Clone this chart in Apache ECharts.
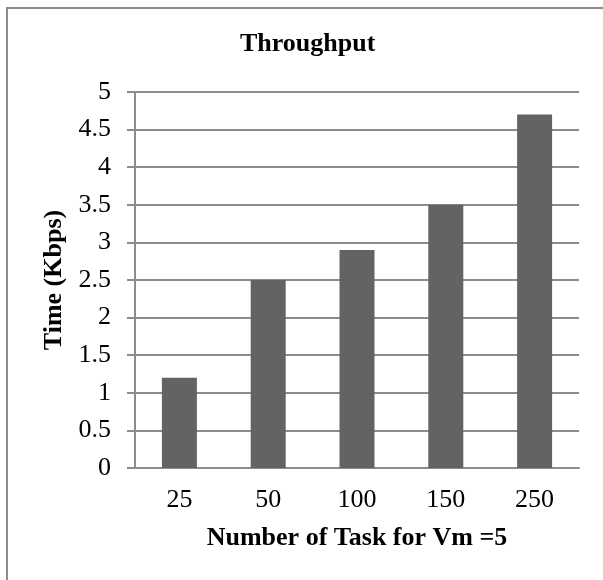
<!DOCTYPE html>
<html>
<head>
<meta charset="utf-8">
<script src="https://cdn.jsdelivr.net/npm/echarts@6/dist/echarts.min.js"></script>
<style>html,body{margin:0;padding:0;background:#fff}#c{width:603px;height:580px}</style>
</head>
<body>
<div id="c"></div>
<script>
const categories = ['25', '50', '100', '150', '250'];
const throughput = [1.2, 2.5, 2.9, 3.5, 4.7];
const yTicks = { min: 0, max: 5, interval: 0.5 };

const serif = '"Liberation Serif", "DejaVu Serif", serif';
const chart = echarts.init(document.getElementById('c'), null, { renderer: 'canvas' });
chart.setOption({
  animation: false,
  backgroundColor: '#fff',
  title: {
    text: 'Throughput',
    left: 235, top: 26,
    textStyle: { fontFamily: serif, fontWeight: 'bold', fontSize: 26, color: '#000' }
  },
  graphic: [{
    type: 'rect', silent: true,
    shape: { x: 7, y: 8, width: 800, height: 800 },
    style: { fill: 'none', stroke: '#8c8c8c', lineWidth: 2 }
  }],
  grid: { left: 135, right: 24, top: 92, bottom: 112 },
  xAxis: {
    type: 'category',
    data: categories,
    name: 'Number of Task for Vm =5',
    nameLocation: 'middle',
    nameGap: 57,
    nameTextStyle: { fontFamily: serif, fontWeight: 'bold', fontSize: 26, color: '#000' },
    axisLine: { show: true, lineStyle: { color: '#8c8c8c', width: 2 } },
    axisTick: { show: false },
    axisLabel: { fontFamily: serif, fontSize: 26, color: '#000', margin: 19 }
  },
  yAxis: {
    type: 'value',
    min: yTicks.min, max: yTicks.max, interval: yTicks.interval,
    name: 'Time (Kbps)',
    nameLocation: 'middle',
    nameGap: 65,
    nameTextStyle: { fontFamily: serif, fontWeight: 'bold', fontSize: 26, color: '#000' },
    axisLine: { show: true, lineStyle: { color: '#8c8c8c', width: 2 } },
    axisTick: { show: true, length: 8, lineStyle: { color: '#8c8c8c', width: 2 } },
    splitLine: { show: true, lineStyle: { color: '#8c8c8c', width: 2 } },
    axisLabel: { fontFamily: serif, fontSize: 26, color: '#000', margin: 24 }
  },
  series: [{
    type: 'bar',
    data: throughput,
    barWidth: 35,
    itemStyle: { color: '#636363' }
  }]
});
</script>
</body>
</html>
